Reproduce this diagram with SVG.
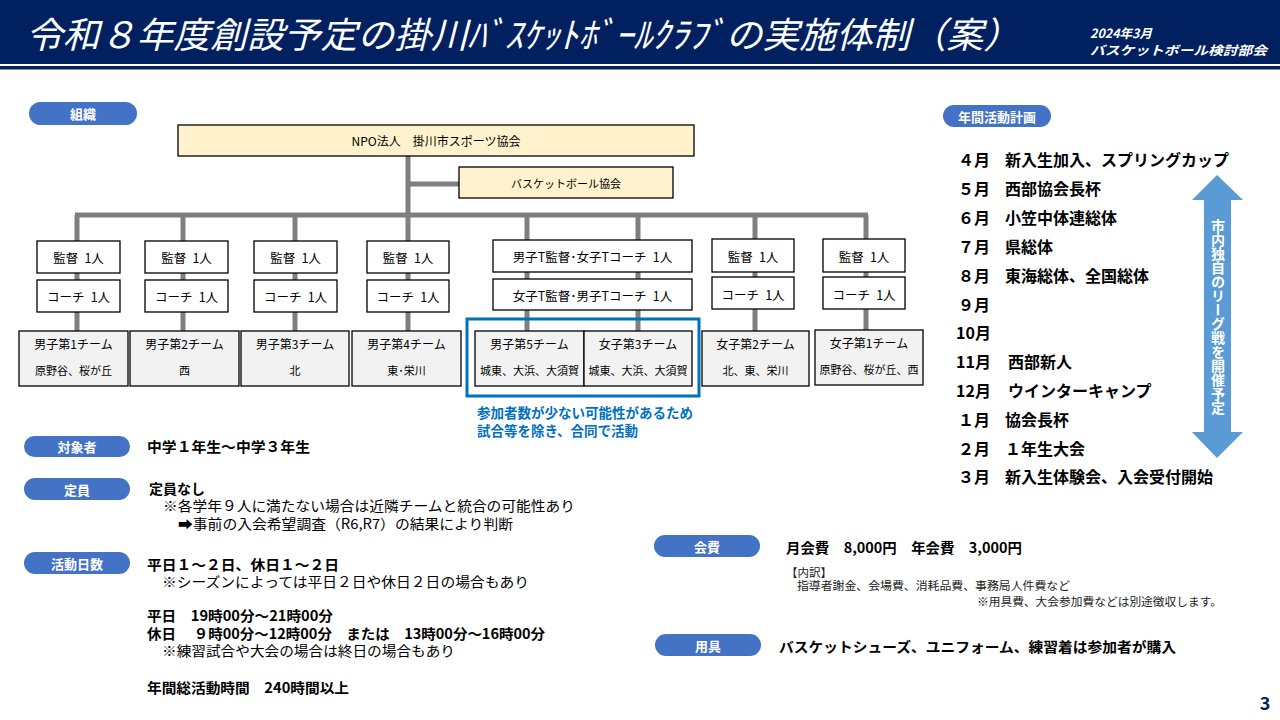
<svg xmlns="http://www.w3.org/2000/svg" width="1280" height="720" viewBox="0 0 1280 720">
<style>
text{font-family:"Noto Sans CJK JP","Noto Sans",sans-serif;fill:#000}
.pill{fill:#4472C4}
.pt{fill:#fff;font-size:13px;font-weight:bold;text-anchor:middle;dominant-baseline:central}
.box{fill:#fff;stroke:#000;stroke-width:1.3}
.team{fill:#F2F2F2;stroke:#000;stroke-width:1.3}
.npo{fill:#FFF2CC;stroke:#000;stroke-width:1.3}
.st{font-size:12.5px;text-anchor:middle;dominant-baseline:central}
.t1{font-size:12px;text-anchor:middle;dominant-baseline:central}
.t2{font-size:11px;text-anchor:middle;dominant-baseline:central}
.b{font-size:14px;font-weight:bold;dominant-baseline:central}
.r{font-size:14px;dominant-baseline:central}
.m{font-size:16px;font-weight:bold;dominant-baseline:central}
.s{font-size:11.5px;dominant-baseline:central;fill:#222}
.conn{stroke:#7F7F7F;stroke-width:5;fill:none}
</style>
<g id="header">
<rect x="0" y="0" width="1280" height="64" fill="#002060"/>
<rect x="0" y="66" width="1280" height="3.5" fill="#002060"/>
<text x="26" y="48" font-size="36" font-style="italic" style="fill:#fff" textLength="994" lengthAdjust="spacingAndGlyphs">令和８年度創設予定の掛川ﾊﾞｽｹｯﾄﾎﾞｰﾙｸﾗﾌﾞの実施体制（案）</text>
<text x="1090" y="32" font-size="12.5" font-weight="bold" font-style="italic" style="fill:#fff;dominant-baseline:central">2024年3月</text>
<text x="1090" y="49" font-size="12.5" font-weight="bold" font-style="italic" style="fill:#fff;dominant-baseline:central" textLength="177" lengthAdjust="spacingAndGlyphs">バスケットボール検討部会</text>
</g>
<g id="connectors">
<line class="conn" x1="408" y1="156" x2="408" y2="215"/>
<line class="conn" x1="408" y1="184" x2="459" y2="184"/>
<line class="conn" x1="75" y1="215" x2="868" y2="215"/>
<line class="conn" x1="77" y1="215" x2="77" y2="331"/>
<line class="conn" x1="183" y1="215" x2="183" y2="331"/>
<line class="conn" x1="295" y1="215" x2="295" y2="331"/>
<line class="conn" x1="408" y1="215" x2="408" y2="331"/>
<line class="conn" x1="527" y1="215" x2="527" y2="331"/>
<line class="conn" x1="638" y1="215" x2="638" y2="331"/>
<line class="conn" x1="755" y1="215" x2="755" y2="331"/>
<line class="conn" x1="866" y1="215" x2="866" y2="331"/>
</g>
<g id="label-soshiki"><rect class="pill" x="29" y="102" width="108" height="23" rx="11.5"/><text class="pt" x="83" y="113.5">組織</text></g>
<g id="npo"><rect class="npo" x="178" y="125" width="516" height="31"/><text class="t1" x="436" y="140.5">NPO法人　掛川市スポーツ協会</text></g>
<g id="bba"><rect class="npo" x="459" y="167" width="214" height="31"/><text class="t2" x="566" y="182.5" font-size="11.5">バスケットボール協会</text></g>
<g id="col1">
<rect class="box" x="37" y="241" width="83" height="32"/><text class="st" x="78.5" y="257">監督&#8194;1人</text>
<rect class="box" x="37" y="280" width="83" height="32"/><text class="st" x="78.5" y="296">コーチ&#8194;1人</text>
<rect class="team" x="19" y="331" width="109" height="55"/><text class="t1" x="73.5" y="343">男子第1チーム</text><text class="t2" x="73.5" y="370">原野谷、桜が丘</text>
</g>
<g id="col2">
<rect class="box" x="145" y="241" width="83" height="32"/><text class="st" x="186.5" y="257">監督&#8194;1人</text>
<rect class="box" x="145" y="280" width="83" height="32"/><text class="st" x="186.5" y="296">コーチ&#8194;1人</text>
<rect class="team" x="130" y="331" width="109" height="55"/><text class="t1" x="184.5" y="343">男子第2チーム</text><text class="t2" x="184.5" y="370">西</text>
</g>
<g id="col3">
<rect class="box" x="254" y="241" width="83" height="32"/><text class="st" x="295.5" y="257">監督&#8194;1人</text>
<rect class="box" x="254" y="280" width="83" height="32"/><text class="st" x="295.5" y="296">コーチ&#8194;1人</text>
<rect class="team" x="241" y="331" width="108" height="55"/><text class="t1" x="295" y="343">男子第3チーム</text><text class="t2" x="295" y="370">北</text>
</g>
<g id="col4">
<rect class="box" x="367" y="241" width="82" height="32"/><text class="st" x="408" y="257">監督&#8194;1人</text>
<rect class="box" x="367" y="280" width="82" height="32"/><text class="st" x="408" y="296">コーチ&#8194;1人</text>
<rect class="team" x="352" y="331" width="109" height="55"/><text class="t1" x="406.5" y="343">男子第4チーム</text><text class="t2" x="406.5" y="370">東･栄川</text>
</g>
<g id="col5">
<rect class="box" x="493" y="240" width="199" height="32"/><text class="st" x="592.5" y="256">男子T監督･女子Tコーチ&#8194;1人</text>
<rect class="box" x="493" y="279" width="199" height="31"/><text class="st" x="592.5" y="295">女子T監督･男子Tコーチ&#8194;1人</text>
<rect class="team" x="475" y="331" width="109" height="55"/><text class="t1" x="529.5" y="343">男子第5チーム</text><text class="t2" x="529.5" y="370" font-size="10.5">城東、大浜、大須賀</text>
<rect class="team" x="584" y="331" width="108" height="55"/><text class="t1" x="638" y="343">女子第3チーム</text><text class="t2" x="638" y="370" font-size="10.5">城東、大浜、大須賀</text>
<rect x="467" y="319" width="232" height="77" fill="none" stroke="#0070C0" stroke-width="3"/>
<text x="477" y="412" font-size="13.5" font-weight="bold" style="fill:#0070C0;dominant-baseline:central">参加者数が少ない可能性があるため</text>
<text x="477" y="430" font-size="13.5" font-weight="bold" style="fill:#0070C0;dominant-baseline:central">試合等を除き、合同で活動</text>
</g>
<g id="col6">
<rect class="box" x="712" y="239" width="82" height="33"/><text class="st" x="753" y="256">監督&#8194;1人</text>
<rect class="box" x="712" y="277" width="82" height="32"/><text class="st" x="753" y="294">コーチ&#8194;1人</text>
<rect class="team" x="702" y="331" width="107" height="55"/><text class="t1" x="755.5" y="343">女子第2チーム</text><text class="t2" x="755.5" y="370">北、東、栄川</text>
</g>
<g id="col7">
<rect class="box" x="823" y="239" width="82" height="33"/><text class="st" x="864" y="256">監督&#8194;1人</text>
<rect class="box" x="823" y="277" width="82" height="32"/><text class="st" x="864" y="294">コーチ&#8194;1人</text>
<rect class="team" x="815" y="330" width="108" height="55"/><text class="t1" x="869" y="342">女子第1チーム</text><text class="t2" x="869" y="369">原野谷、桜が丘、西</text>
</g>
<g id="annual">
<rect class="pill" x="943" y="105" width="108" height="22" rx="11"/><text class="pt" x="997" y="116">年間活動計画</text>
<text class="m" x="958" y="159">４月</text><text class="m" x="1005" y="159">新入生加入、スプリングカップ</text>
<text class="m" x="958" y="188">５月</text><text class="m" x="1005" y="188">西部協会長杯</text>
<text class="m" x="958" y="217">６月</text><text class="m" x="1005" y="217">小笠中体連総体</text>
<text class="m" x="958" y="246">７月</text><text class="m" x="1005" y="246">県総体</text>
<text class="m" x="958" y="275">８月</text><text class="m" x="1005" y="275">東海総体、全国総体</text>
<text class="m" x="958" y="304">９月</text>
<text class="m" x="956" y="332">10月</text>
<text class="m" x="956" y="361">11月</text><text class="m" x="1008" y="361">西部新人</text>
<text class="m" x="956" y="390">12月</text><text class="m" x="1008" y="390">ウインターキャンプ</text>
<text class="m" x="958" y="419">１月</text><text class="m" x="1005" y="419">協会長杯</text>
<text class="m" x="958" y="448">２月</text><text class="m" x="1005" y="448">１年生大会</text>
<text class="m" x="958" y="476">３月</text><text class="m" x="1005" y="476">新入生体験会、入会受付開始</text>
<polygon points="1217,175 1243,200 1231,200 1231,432 1243,432 1217,458 1192,432 1204,432 1204,200 1192,200" fill="#5B9BD5"/>
<text x="1218" y="317" font-size="14" font-weight="bold" style="fill:#fff;writing-mode:vertical-rl;text-anchor:middle">市内独自のリーグ戦を開催予定</text>
</g>
<g id="target">
<rect class="pill" x="24" y="436" width="106" height="21" rx="10.5"/><text class="pt" x="77" y="446.5">対象者</text>
<text class="b" x="147" y="446" textLength="163" lengthAdjust="spacingAndGlyphs">中学１年生～中学３年生</text>
</g>
<g id="capacity">
<rect class="pill" x="24" y="478" width="106" height="22" rx="11"/><text class="pt" x="77" y="489">定員</text>
<text class="b" x="149" y="488">定員なし</text>
<text class="r" x="163" y="505" textLength="412" lengthAdjust="spacingAndGlyphs">※各学年９人に満たない場合は近隣チームと統合の可能性あり</text>
<text class="r" x="178" y="523" textLength="335" lengthAdjust="spacingAndGlyphs">➡事前の入会希望調査（R6,R7）の結果により判断</text>
</g>
<g id="days">
<rect class="pill" x="24" y="552" width="106" height="22" rx="11"/><text class="pt" x="77" y="563">活動日数</text>
<text class="b" x="147" y="564" textLength="192" lengthAdjust="spacingAndGlyphs">平日１～２日、休日１～２日</text>
<text class="r" x="162" y="581" textLength="367" lengthAdjust="spacingAndGlyphs">※シーズンによっては平日２日や休日２日の場合もあり</text>
<text class="b" x="147" y="615" textLength="186" lengthAdjust="spacingAndGlyphs">平日　19時00分～21時00分</text>
<text class="b" x="147" y="633" textLength="398" lengthAdjust="spacingAndGlyphs">休日　 ９時00分～12時00分　または　13時00分～16時00分</text>
<text class="r" x="162" y="650" textLength="293" lengthAdjust="spacingAndGlyphs">※練習試合や大会の場合は終日の場合もあり</text>
<text class="b" x="147" y="687" textLength="202" lengthAdjust="spacingAndGlyphs">年間総活動時間　240時間以上</text>
</g>
<g id="fee">
<rect class="pill" x="654" y="535" width="106" height="22" rx="11"/><text class="pt" x="707" y="546">会費</text>
<text class="b" x="786" y="547" textLength="236" lengthAdjust="spacingAndGlyphs">月会費　8,000円　年会費　3,000円</text>
<text class="s" x="786" y="572">【内訳】</text>
<text class="s" x="797" y="585" textLength="273" lengthAdjust="spacingAndGlyphs">指導者謝金、会場費、消耗品費、事務局人件費など</text>
<text class="s" x="977" y="601" textLength="245" lengthAdjust="spacingAndGlyphs">※用具費、大会参加費などは別途徴収します。</text>
</g>
<g id="equip">
<rect class="pill" x="655" y="634" width="106" height="22" rx="11"/><text class="pt" x="708" y="645">用具</text>
<text class="b" x="779" y="646" textLength="397" lengthAdjust="spacingAndGlyphs">バスケットシューズ、ユニフォーム、練習着は参加者が購入</text>
</g>
<text x="1265" y="702" font-size="18" font-weight="bold" style="fill:#002060;dominant-baseline:central;text-anchor:middle">3</text>
</svg>
